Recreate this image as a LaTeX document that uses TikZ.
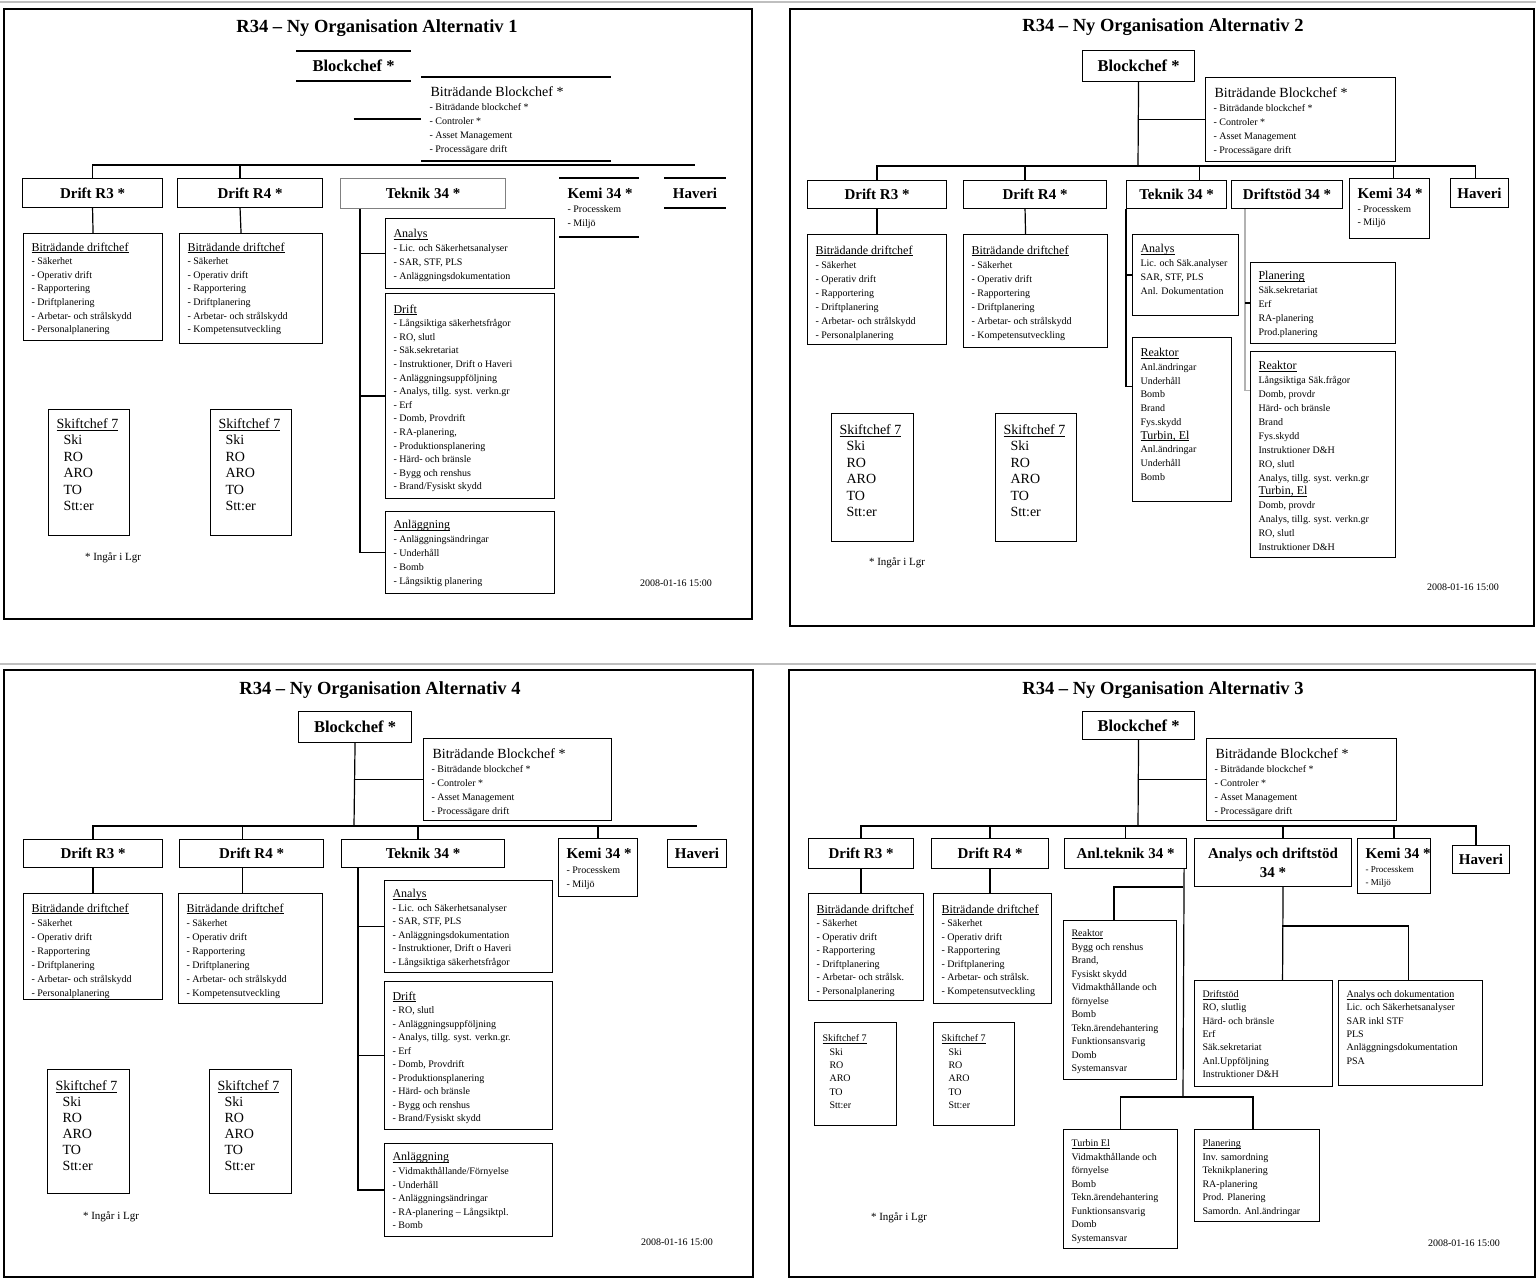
\documentclass[tikz,border=0pt]{standalone}
\usepackage{fontspec}
\setmainfont{Liberation Serif}
\usetikzlibrary{calc}
\newcommand\fsz[2]{\fontsize{#1}{#2}\selectfont}
\newcommand\ulin[1]{\setbox0\hbox{#1}\rlap{\vrule height -1.3pt depth 2pt width \wd0}\box0}
\newcommand\itm[1]{\hbox{\kern8pt #1}}
\newcommand\uhd[2][12]{\hbox{\kern8pt\fsz{#1}{#1}\ulin{#2}}}
\newcommand\kemh[1]{\hbox{\kern8pt\bfseries\fsz{15}{15}#1}}
\newcommand\orgbox[8][]{\node[obox,#1] (#2) at (#3,#4) {\parbox[t][#6pt][t]{#5pt}{\hrule height0pt width#5pt\relax\vspace*{#7pt}#8}};}
\newcommand\bbtext{\hbox{\kern9pt\fsz{14}{14}Biträdande Blockchef *}\itm{- Biträdande blockchef *}\itm{- Controler *}\itm{- Asset Management}\itm{- Processägare drift}}
\newcommand\bdtext[2]{\uhd{Biträdande driftchef}\itm{- Säkerhet}\itm{- Operativ drift}\itm{- Rapportering}\itm{- Driftplanering}\itm{- #1}\itm{- #2}}
\newcommand\sktext[1][14]{\uhd[#1]{Skiftchef 7}\itm{\kern7pt Ski}\itm{\kern7pt RO}\itm{\kern7pt ARO}\itm{\kern7pt TO}\itm{\kern7pt Stt:er}}
\begin{document}
\begin{tikzpicture}[x=1pt,y=-1pt,
  obox/.style={draw, line width=1.1pt, inner sep=0pt, anchor=north west, font=\fsz{10}{13.6}},
  hdr/.style={draw, line width=1.1pt, inner sep=0pt, anchor=north west, font=\bfseries\fsz{15}{17}},
  ghost/.style={draw=none},
  ln/.style={line width=1.2pt},
  frame/.style={line width=2.6pt},
  ttl/.style={font=\bfseries\fsz{18.5}{20}},
  note/.style={font=\fsz{11}{12}},
  stamp/.style={font=\fsz{10}{11}}]
\useasboundingbox (0,0) rectangle (1536,1278);
\fill[white] (0,0) rectangle (1536,1278);
\draw[gray!50, line width=1.5pt] (0,2) -- (1536,2);
\draw[gray!50, line width=1.5pt] (0,664) -- (1536,664);

% ---- Alternativ 1
\draw[frame] (4,9) rectangle (752,619);
\node[ttl] (q1ttl) at (377,28) {R34 -- Ny Organisation Alternativ 1};
\node[hdr, ghost, minimum width=114pt, minimum height=29pt, font=\bfseries\fsz{16.5}{18}] (q1blk) at (296,51) {Blockchef *};
\draw[line width=2pt] (q1blk.north west) -- (q1blk.north east) (q1blk.south west) -- (q1blk.south east);
\orgbox[ghost,font=\fsz{10}{14}]{q1bb}{421}{77}{189}{83}{9}{\bbtext}
\draw[line width=2pt] (q1bb.north west) -- (q1bb.north east) (q1bb.south west) -- (q1bb.south east);
\node[hdr, minimum width=140pt, minimum height=29pt] (q1r3) at (22,178) {Drift R3 *};
\node[hdr, minimum width=145pt, minimum height=29pt] (q1r4) at (177,178) {Drift R4 *};
\node[hdr, draw=gray, minimum width=165pt, minimum height=30pt] (q1tek) at (340,178) {Teknik 34 *};
\orgbox[ghost]{q1kem}{559}{178}{79}{58}{10}{\kemh{Kemi 34 *}\itm{- Processkem}\itm{- Miljö}}
\draw[line width=2pt] (q1kem.north west) -- (q1kem.north east) (q1kem.south west) -- (q1kem.south east);
\node[hdr, ghost, minimum width=61pt, minimum height=29pt] (q1hav) at (664,178) {Haveri};
\draw[line width=2pt] (q1hav.north west) -- (q1hav.north east) (q1hav.south west) -- (q1hav.south east);
\orgbox{q1bd3}{23}{233}{139}{107}{9}{\bdtext{Arbetar- och strålskydd}{Personalplanering}}
\orgbox{q1bd4}{179}{233}{143}{110}{9}{\bdtext{Arbetar- och strålskydd}{Kompetensutveckling}}
\orgbox[font=\fsz{14}{16.5}]{q1sk3}{48}{409}{81}{126}{9}{\sktext}
\orgbox[font=\fsz{14}{16.5}]{q1sk4}{210}{409}{81}{126}{9}{\sktext}
\orgbox[font=\fsz{10}{14}]{q1ana}{385}{218}{169}{70}{11}{\uhd{Analys}\itm{- Lic. och Säkerhetsanalyser}\itm{- SAR, STF, PLS}\itm{- Anläggningsdokumentation}}
\orgbox{q1dri}{385}{293}{169}{205}{11}{\uhd{Drift}\itm{- Långsiktiga säkerhetsfrågor}\itm{- RO, slutl}\itm{- Säk.sekretariat}\itm{- Instruktioner, Drift o Haveri}\itm{- Anläggningsuppföljning}\itm{- Analys, tillg. syst. verkn.gr}\itm{- Erf}\itm{- Domb, Provdrift}\itm{- RA-planering,}\itm{- Produktionsplanering}\itm{- Härd- och bränsle}\itm{- Bygg och renshus}\itm{- Brand/Fysiskt skydd}}
\orgbox[font=\fsz{10}{14}]{q1anl}{385}{511}{169}{82}{9}{\uhd{Anläggning}\itm{- Anläggningsändringar}\itm{- Underhåll}\itm{- Bomb}\itm{- Långsiktig planering}}
\coordinate (q1bus) at (352,165);
\draw[ln] (q1blk.south |- q1bb.west) -- (q1bb.west);
\draw[ln] (q1r3.north) |- (q1bus);
\draw[ln] ([xshift=-10pt]q1r4.north) |- (q1bus);
\draw[ln] (q1bus) -- (q1bus -| q1hav.north);
\draw[ln] (q1r3.south) -- (q1bd3.north);
\draw[ln] ([xshift=-10pt]q1r4.south) -- ([xshift=-10pt]q1bd4.north);
\coordinate (q1tv) at ([xshift=20pt]q1tek.south west);
\draw[ln] (q1tv) |- (q1anl.west);
\draw[ln] (q1tv |- q1ana.west) -- (q1ana.west);
\draw[ln] (q1tv |- q1dri.west) -- (q1dri.west);
\node[note] (q1note) at (113,558) {* Ingår i Lgr};
\node[stamp] (q1date) at (676,583) {2008-01-16 15:00};

% ---- Alternativ 2
\draw[frame] (790,9) rectangle (1534,626);
\node[ttl] (q2ttl) at (1163,27) {R34 -- Ny Organisation Alternativ 2};
\node[hdr, minimum width=112pt, minimum height=31pt, font=\bfseries\fsz{16.5}{18}] (q2blk) at (1082,50) {Blockchef *};
\orgbox[font=\fsz{10}{14}]{q2bb}{1205}{77}{190}{84}{10}{\bbtext}
\node[hdr, minimum width=139pt, minimum height=28pt] (q2r3) at (807,180) {Drift R3 *};
\node[hdr, minimum width=143pt, minimum height=28pt] (q2r4) at (963,180) {Drift R4 *};
\node[hdr, minimum width=100pt, minimum height=28pt] (q2tek) at (1126,180) {Teknik 34 *};
\node[hdr, minimum width=111pt, minimum height=28pt] (q2drs) at (1231,180) {Driftstöd 34 *};
\orgbox[font=\fsz{10}{13.5}]{q2kem}{1349}{178}{80}{60}{10}{\kemh{Kemi 34 *}\itm{- Processkem}\itm{- Miljö}}
\node[hdr, minimum width=58pt, minimum height=29pt] (q2hav) at (1450,178) {Haveri};
\orgbox[font=\fsz{10}{14}]{q2bd3}{807}{234}{139}{110}{11}{\bdtext{Arbetar- och strålskydd}{Personalplanering}}
\orgbox[font=\fsz{10}{14}]{q2bd4}{963}{234}{144}{113}{11}{\bdtext{Arbetar- och strålskydd}{Kompetensutveckling}}
\orgbox[font=\fsz{14}{16.5}]{q2sk3}{831}{413}{82}{128}{11}{\sktext}
\orgbox[font=\fsz{14}{16.5}]{q2sk4}{995}{413}{81}{128}{11}{\sktext}
\orgbox[font=\fsz{10}{14}]{q2ana}{1132}{234}{106}{81}{10}{\uhd{Analys}\itm{Lic. och Säk.analyser}\itm{SAR, STF, PLS}\itm{Anl. Dokumentation}}
\orgbox[font=\fsz{10}{13.7}]{q2rea}{1132}{337}{99}{164}{11}{\uhd{Reaktor}\itm{Anl.ändringar}\itm{Underhåll}\itm{Bomb}\itm{Brand}\itm{Fys.skydd}\uhd{Turbin, El}\itm{Anl.ändringar}\itm{Underhåll}\itm{Bomb}}
\orgbox[font=\fsz{10}{14}]{q2pla}{1250}{262}{145}{81}{9}{\uhd{Planering}\itm{Säk.sekretariat}\itm{Erf}\itm{RA-planering}\itm{Prod.planering}}
\orgbox[font=\fsz{10}{13.9}]{q2rer}{1250}{351}{145}{206}{10}{\uhd{Reaktor}\itm{Långsiktiga Säk.frågor}\itm{Domb, provdr}\itm{Härd- och bränsle}\itm{Brand}\itm{Fys.skydd}\itm{Instruktioner D\&H}\itm{RO, slutl}\itm{Analys, tillg. syst. verkn.gr}\uhd{Turbin, El}\itm{Domb, provdr}\itm{Analys, tillg. syst. verkn.gr}\itm{RO, slutl}\itm{Instruktioner D\&H}}
\coordinate (q2bus) at (1138,166);
\draw[ln] (q2blk.south) -- (q2bus);
\draw[ln] (q2blk.south |- q2bb.west) -- (q2bb.west);
\draw[ln] (q2r3.north) |- (q2bus);
\draw[ln] ([xshift=-10pt]q2r4.north) |- (q2bus);
\draw[ln] ([xshift=23pt]q2tek.north) |- (q2bus);
\draw[ln] ([xshift=4pt]q2kem.north) |- (q2bus);
\draw[ln] ([xshift=-4pt]q2hav.north) |- (q2bus);
\draw[ln] (q2r3.south) -- (q2bd3.north);
\draw[ln] ([xshift=-10pt]q2r4.south) -- ([xshift=-10pt]q2bd4.north);
\coordinate (q2tv) at (q2tek.south west);
\draw[ln] (q2tv) |- ([yshift=33pt]q2rea.west);
\draw[ln] (q2tv |- q2ana.west) -- (q2ana.west);
\coordinate (q2dv) at ([xshift=14pt]q2drs.south west);
\draw[ln, gray!60] (q2dv) |- ([yshift=64pt]q2rer.west);
\draw[ln] (q2dv |- q2pla.west) -- (q2pla.west);
\node[note] (q2note) at (897,563) {* Ingår i Lgr};
\node[stamp] (q2date) at (1463,587) {2008-01-16 15:00};

% ---- Alternativ 4
\draw[frame] (4,670) rectangle (753,1277);
\node[ttl] (q3ttl) at (380,690) {R34 -- Ny Organisation Alternativ 4};
\node[hdr, minimum width=113pt, minimum height=31pt, font=\bfseries\fsz{16.5}{18}] (q3blk) at (298,711) {Blockchef *};
\orgbox[font=\fsz{10}{14}]{q3bb}{423}{738}{188}{82}{10}{\bbtext}
\node[hdr, minimum width=139pt, minimum height=28pt] (q3r3) at (23,839) {Drift R3 *};
\node[hdr, minimum width=144pt, minimum height=28pt] (q3r4) at (179,839) {Drift R4 *};
\node[hdr, minimum width=163pt, minimum height=28pt] (q3tek) at (341,839) {Teknik 34 *};
\orgbox[font=\fsz{10}{14.5}]{q3kem}{558}{838}{79}{58}{10}{\kemh{Kemi 34 *}\itm{- Processkem}\itm{- Miljö}}
\node[hdr, minimum width=59pt, minimum height=28pt] (q3hav) at (667,839) {Haveri};
\orgbox[font=\fsz{10}{14}]{q3bd3}{23}{893}{139}{106}{10}{\bdtext{Arbetar- och strålskydd}{Personalplanering}}
\orgbox[font=\fsz{10}{14}]{q3bd4}{178}{893}{144}{110}{10}{\bdtext{Arbetar- och strålskydd}{Kompetensutveckling}}
\orgbox[font=\fsz{14}{16}]{q3sk3}{47}{1069}{82}{124}{11}{\sktext}
\orgbox[font=\fsz{14}{16}]{q3sk4}{209}{1069}{82}{124}{11}{\sktext}
\orgbox[font=\fsz{10}{13.5}]{q3ana}{384}{880}{168}{92}{9}{\uhd{Analys}\itm{- Lic. och Säkerhetsanalyser}\itm{- SAR, STF, PLS}\itm{- Anläggningsdokumentation}\itm{- Instruktioner, Drift o Haveri}\itm{- Långsiktiga säkerhetsfrågor}}
\orgbox[font=\fsz{10}{13.5}]{q3dri}{384}{981}{168}{148}{10}{\uhd{Drift}\itm{- RO, slutl}\itm{- Anläggningsuppföljning}\itm{- Analys, tillg. syst. verkn.gr.}\itm{- Erf}\itm{- Domb, Provdrift}\itm{- Produktionsplanering}\itm{- Härd- och bränsle}\itm{- Bygg och renshus}\itm{- Brand/Fysiskt skydd}}
\orgbox[font=\fsz{10}{13.6}]{q3anl}{384}{1143}{168}{93}{9}{\uhd{Anläggning}\itm{- Vidmakthållande/Förnyelse}\itm{- Underhåll}\itm{- Anläggningsändringar}\itm{- RA-planering -- Långsiktpl.}\itm{- Bomb}}
\coordinate (q3bus) at (354,826);
\draw[ln] (q3blk.south) -- (q3bus);
\draw[ln] (q3blk.south |- q3bb.west) -- (q3bb.west);
\draw[ln] (q3r3.north) |- (q3bus);
\draw[ln] ([xshift=-9pt]q3r4.north) |- (q3bus);
\draw[ln] ([xshift=-5pt]q3tek.north) |- (q3bus);
\draw[ln] (q3kem.north) |- (q3bus);
\draw[ln] (q3bus) -- (q3bus -| q3hav.north);
\draw[ln] (q3r3.south) -- (q3bd3.north);
\draw[ln] ([xshift=-9pt]q3r4.south) -- ([xshift=-8pt]q3bd4.north);
\coordinate (q3tv) at ([xshift=17pt]q3tek.south west);
\draw[ln] (q3tv) |- (q3anl.west);
\draw[ln] (q3tv |- q3ana.west) -- (q3ana.west);
\draw[ln] (q3tv |- q3dri.west) -- (q3dri.west);
\node[note] (q3note) at (111,1217) {* Ingår i Lgr};
\node[stamp] (q3date) at (677,1242) {2008-01-16 15:00};

% ---- Alternativ 3
\draw[frame] (789,670) rectangle (1535,1277);
\node[ttl] (q4ttl) at (1163,690) {R34 -- Ny Organisation Alternativ 3};
\node[hdr, minimum width=112pt, minimum height=28pt, font=\bfseries\fsz{16.5}{18}] (q4blk) at (1082,711) {Blockchef *};
\orgbox[font=\fsz{10}{14}]{q4bb}{1206}{738}{190}{82}{10}{\bbtext}
\node[hdr, minimum width=105pt, minimum height=30pt] (q4r3) at (808,838) {Drift R3 *};
\node[hdr, minimum width=117pt, minimum height=30pt] (q4r4) at (931,838) {Drift R4 *};
\node[hdr, minimum width=122pt, minimum height=30pt] (q4ant) at (1064,838) {Anl.teknik 34 *};
\node[hdr, minimum width=157pt, minimum height=48pt, align=center, font=\bfseries\fsz{15}{19}] (q4ads) at (1194,838) {Analys och driftstöd\\34 *};
\orgbox[font=\fsz{9}{13.5}]{q4kem}{1357}{838}{68}{55}{10}{\kemh{Kemi 34 *}\itm{- Processkem}\itm{- Miljö}}
\node[hdr, minimum width=57pt, minimum height=28pt] (q4hav) at (1452,845) {Haveri};
\orgbox[font=\fsz{10}{13.5}]{q4bd3}{808}{893}{115}{107}{11}{\bdtext{Arbetar- och strålsk.}{Personalplanering}}
\orgbox[font=\fsz{10}{13.5}]{q4bd4}{933}{893}{118}{110}{11}{\bdtext{Arbetar- och strålsk.}{Kompetensutveckling}}
\orgbox[font=\fsz{10}{13.4}]{q4sk3}{814}{1022}{82}{103}{12}{\sktext[10]}
\orgbox[font=\fsz{10}{13.4}]{q4sk4}{933}{1022}{81}{103}{12}{\sktext[10]}
\orgbox[font=\fsz{10}{13.5}]{q4rea}{1063}{920}{113}{159}{9}{\uhd[10]{Reaktor}\itm{Bygg och renshus}\itm{Brand,}\itm{Fysiskt skydd}\itm{Vidmakthållande och}\itm{förnyelse}\itm{Bomb}\itm{Tekn.ärendehantering}\itm{Funktionsansvarig}\itm{Domb}\itm{Systemansvar}}
\orgbox[font=\fsz{10}{13.5}]{q4tur}{1063}{1129}{114}{119}{10}{\uhd[10]{Turbin El}\itm{Vidmakthållande och}\itm{förnyelse}\itm{Bomb}\itm{Tekn.ärendehantering}\itm{Funktionsansvarig}\itm{Domb}\itm{Systemansvar}}
\orgbox[font=\fsz{10}{13.5}]{q4pla}{1194}{1129}{125}{92}{10}{\uhd[10]{Planering}\itm{Inv. samordning}\itm{Teknikplanering}\itm{RA-planering}\itm{Prod. Planering}\itm{Samordn. Anl.ändringar}}
\orgbox[font=\fsz{10}{13.3}]{q4dst}{1194}{980}{138}{106}{10}{\uhd[10]{Driftstöd}\itm{RO, slutlig}\itm{Härd- och bränsle}\itm{Erf}\itm{Säk.sekretariat}\itm{Anl.Uppföljning}\itm{Instruktioner D\&H}}
\orgbox[font=\fsz{10}{13.3}]{q4adk}{1338}{980}{144}{105}{10}{\uhd[10]{Analys och dokumentation}\itm{Lic. och Säkerhetsanalyser}\itm{SAR inkl STF}\itm{PLS}\itm{Anläggningsdokumentation}\itm{PSA}}
\coordinate (q4bus) at (1138,826);
\draw[ln] (q4blk.south) -- (q4bus);
\draw[ln] (q4blk.south |- q4bb.west) -- (q4bb.west);
\draw[ln] (q4r3.north) |- (q4bus);
\draw[ln] (q4r4.north) |- (q4bus);
\draw[ln] (q4ant.north) |- (q4bus);
\draw[ln] ([xshift=10pt]q4ads.north) |- (q4bus);
\draw[ln] (q4kem.north) |- (q4bus);
\draw[ln] ([xshift=-5pt]q4hav.north) |- (q4bus);
\draw[ln] (q4r3.south) -- (q4r3.south |- q4bd3.north);
\draw[ln] (q4r4.south) -- (q4r4.south |- q4bd4.north);
\coordinate (q4aj) at (1183,887);
\coordinate (q4ak) at (1183,1097);
\draw[ln] ([xshift=-3pt]q4ant.south east) -- (q4ak);
\draw[ln] (q4aj) -| ([xshift=-6pt]q4rea.north);
\draw[ln] (q4tur.north) |- (q4ak);
\draw[ln] ([xshift=-4pt]q4pla.north) |- (q4ak);
\coordinate (q4dj) at (1282,926);
\draw[ln] ([xshift=10pt]q4ads.south) -- ([xshift=19pt]q4dst.north);
\draw[ln] (q4dj) -| ([xshift=-2pt]q4adk.north);
\node[note] (q4note) at (899,1218) {* Ingår i Lgr};
\node[stamp] (q4date) at (1464,1243) {2008-01-16 15:00};
\end{tikzpicture}
\end{document}
